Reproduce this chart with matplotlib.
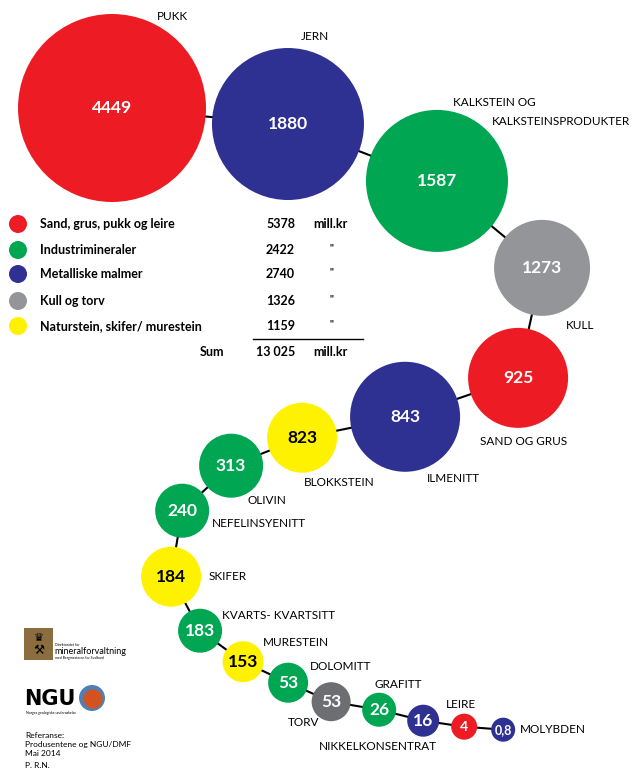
import numpy as np
import matplotlib.pyplot as plt
from matplotlib.patches import Circle, Rectangle

# --- data: production value per mineral (mill. kr), Norway 2013 ---
minerals = ["PUKK", "JERN", "KALKSTEIN OG\nKALKSTEINSPRODUKTER", "KULL", "SAND OG GRUS",
            "ILMENITT", "BLOKKSTEIN", "OLIVIN", "NEFELINSYENITT", "SKIFER",
            "KVARTS- KVARTSITT", "MURESTEIN", "DOLOMITT", "TORV", "GRAFITT",
            "NIKKELKONSENTRAT", "LEIRE", "MOLYBDEN"]
values = [4449, 1880, 1587, 1273, 925, 843, 823, 313, 240, 184, 183, 153, 53, 53, 26, 16, 4, 0.8]
groups = ["sand", "metall", "industri", "kull", "sand", "metall", "natur", "industri",
          "industri", "natur", "industri", "natur", "industri", "torv", "industri",
          "metall", "sand", "metall"]

legend_names = ["Sand, grus, pukk og leire", "Industrimineraler", "Metalliske malmer",
                "Kull og torv", "Naturstein, skifer/ murestein"]
legend_keys = ["sand", "industri", "metall", "kull", "natur"]
legend_values = [5378, 2422, 2740, 1326, 1159]

# --- styling / layout ---
colors = {"sand": "#ED1C24", "industri": "#00A651", "metall": "#2E3192",
          "kull": "#939598", "torv": "#6D6E71", "natur": "#FFF200"}
radii = [94, 76, 71, 48, 50, 55, 35, 32, 27, 30, 22, 20.5, 20, 19.5, 17, 16, 13, 12]
# chain: direction (deg, downwards positive) and gap to the next bubble
turn = [5.2, 20.9, 39.6, 102.3, 161.0, 168.5, 158.5, 137.4, 99.5, 61.8,
        35.8, 25.0, 23.8, 9.5, 14.0, 8.3, 4.4]
gaps = [6.7, 12.5, 17.4, 14.6, 14.5, 15.1, 9.3, 7.5, 9.9, 9.3,
        10.5, 9.2, 7.5, 12.2, 12.4, 12.4, 14.1]
start = (112, 108)
# label offset from bubble centre and alignment
label_pos = [(60, -92, "center"), (27, -88, "center"), None, (38, 58, "center"),
             (5, 64, "center"), (48, 62, "center"), (37, 45, "center"), (36, 35, "center"),
             (30, 13, "left"), (37, 0, "left"), (22, -15, "left"), (20, -19, "left"),
             (22, -16, "left"), (-28, 21, "center"), (19, -25, "center"),
             (-45, 26, "center"), (-3, -22, "center"), (17, 0, "left")]

LAB = "Lato"
LFS = 8.5   # mineral labels
TFS = 9     # legend table

cx, cy = [start[0]], [start[1]]
for i, (a, g) in enumerate(zip(turn, gaps)):
    d = radii[i] + radii[i + 1] + g
    cx.append(cx[-1] + d * np.cos(np.radians(a)))
    cy.append(cy[-1] + d * np.sin(np.radians(a)))

fig = plt.figure(figsize=(6.34, 7.69), dpi=100)
ax = fig.add_axes([0, 0, 1, 1])
ax.set_xlim(0, 634)
ax.set_ylim(769, 0)
ax.axis("off")

ax.plot(cx, cy, color="black", lw=1.5, zorder=1)

for i, v in enumerate(values):
    col = colors[groups[i]]
    ax.add_patch(Circle((cx[i], cy[i]), radii[i], color=col, lw=0, zorder=2))
    txt = f"{v:g}".replace(".", ",")
    fs = 12.5 if v >= 10 else (10 if v >= 1 else 9)
    tc = "black" if groups[i] == "natur" else "white"
    ax.text(cx[i], cy[i], txt, ha="center", va="center", color=tc, fontsize=fs,
            fontweight="bold", family=LAB, zorder=3)
    if label_pos[i] is not None:
        dx, dy, ha = label_pos[i]
        ax.text(cx[i] + dx, cy[i] + dy, minerals[i], ha=ha, va="center",
                fontsize=LFS, family=LAB, zorder=3)

# two-line label for limestone
l1, l2 = minerals[2].split("\n")
ax.text(cx[2] + 16, cy[2] - 78, l1, ha="left", va="center", fontsize=LFS, family=LAB)
ax.text(cx[2] + 55, cy[2] - 59, l2, ha="left", va="center", fontsize=LFS, family=LAB)

# legend table
ly = [224, 250, 274, 301, 326]
for y, name, key, val in zip(ly, legend_names, legend_keys, legend_values):
    ax.add_patch(Circle((18, y), 9, color=colors[key], lw=0))
    ax.text(40, y, name, ha="left", va="center", fontsize=TFS, fontweight="bold", family=LAB)
    ax.text(295, y, str(val), ha="right", va="center", fontsize=TFS, fontweight="bold", family=LAB)
    if key == "sand":
        ax.text(313, y, "mill.kr", ha="left", va="center", fontsize=TFS, fontweight="bold", family=LAB)
    else:
        ax.text(331, y - 2, '"', ha="center", va="center", fontsize=7, fontweight="bold", family=LAB)
ax.plot([253, 363], [339, 339], color="black", lw=1)
total = sum(legend_values)
ax.text(224, 352, "Sum", ha="right", va="center", fontsize=TFS, fontweight="bold", family=LAB)
ax.text(295, 352, f"{total:,}".replace(",", " "), ha="right", va="center", fontsize=TFS,
        fontweight="bold", family=LAB)
ax.text(313, 352, "mill.kr", ha="left", va="center", fontsize=TFS, fontweight="bold", family=LAB)

# DMF logo
ax.add_patch(Rectangle((24, 628), 29, 32, color="#8B6D3F", lw=0))
ax.text(38.5, 638, "\u265b", ha="center", va="center", fontsize=8, color="black", family="DejaVu Sans")
ax.text(38.5, 651, "\u2692", ha="center", va="center", fontsize=9, color="black", family="DejaVu Sans")
ax.text(55, 645, "Direktoratet for", ha="left", va="center", fontsize=2.5, family=LAB)
ax.text(54, 652, "mineralforvaltning", ha="left", va="center", fontsize=6.5, family=LAB)
ax.text(55, 658, "med Bergmesteren for Svalbard", ha="left", va="center", fontsize=2.5, family=LAB)

# NGU logo
ax.text(24, 699, "NGU", ha="left", va="center", fontsize=15, fontweight="heavy",
        family="DejaVu Sans", color="black")
ax.add_patch(Circle((92, 698), 13, color="#4F7FB5", lw=0))
ax.add_patch(Circle((93, 699), 9.5, color="#D3521F", lw=0))
ax.text(26, 713, "Norges geologiske undersøkelse", ha="left", va="center", fontsize=2.5, family=LAB)

# reference
for y, t in zip([736, 745, 753, 765], ["Referanse:", "Produsentene og NGU/DMF", "Mai 2014", "P. R.N."]):
    ax.text(25, y, t, ha="left", va="center", fontsize=6, family=LAB)

fig.savefig("out.png", dpi=100)
